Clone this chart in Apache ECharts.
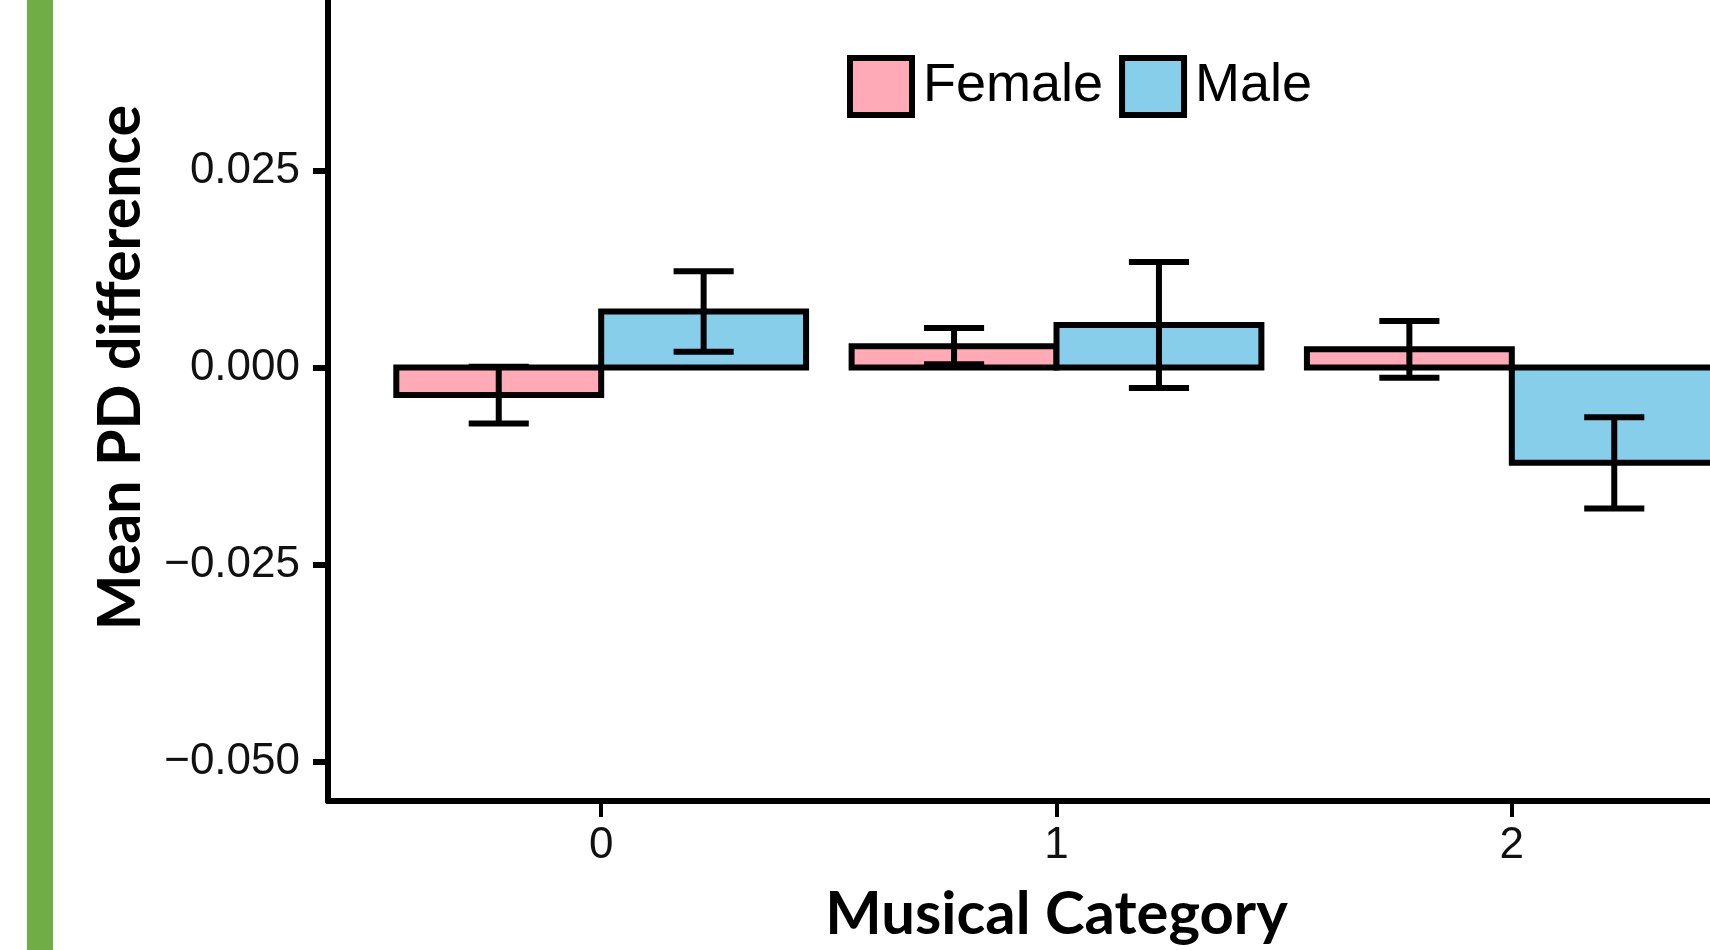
<!DOCTYPE html>
<html>
<head>
<meta charset="utf-8">
<script src="https://cdn.jsdelivr.net/npm/echarts@6/dist/echarts.min.js"></script>
<style>
html,body{margin:0;padding:0;background:#fff;overflow:hidden;width:1710px;height:950px;}
/* the plot panel of the original runs past the right and top edges, so the canvas is larger than the window */
#chart{position:absolute;left:0;top:-100px;width:1900px;height:1050px;}
</style>
</head>
<body>
<div id="chart"></div>
<script>
// ---- data ----
const categories = ['0', '1', '2'];
const seriesNames = ['Female', 'Male'];
const femaleMean = [-0.0035, 0.0027, 0.0023];
const femaleSE   = [0.0036, 0.0023, 0.0036];
const maleMean   = [0.0071, 0.0054, -0.0121];
const maleSE     = [0.0051, 0.0080, 0.0058];
const yTickValues = [-0.05, -0.025, 0, 0.025, 0.05];
const xTitle = 'Musical Category';
const yTitle = 'Mean PD difference';

// ---- styles ----
const PINK = '#FFAAB6';
const BLUE = '#87CEEB';
const LW = 6;
const BAR_W = 0.45;
const CAP_W = 0.132;
const OY = 100; // container offset above the window

function fitFont(text, weight, family, target) {
  const c = document.createElement('canvas').getContext('2d');
  c.font = weight + ' 100px ' + family;
  return Math.round(100 * target / c.measureText(text).width * 10) / 10;
}
const titleFamily = 'Lato';
const xTitleSize = fitFont(xTitle, 'bold', titleFamily, 462);
const yTitleSize = fitFont(yTitle, 'bold', titleFamily, 525);

function makeRender(color, dx) {
  return function (params, api) {
    const x = api.value(0), v = api.value(1), se = api.value(2);
    const halfW = api.size([BAR_W, 0])[0] / 2;
    const capHalf = api.size([CAP_W, 0])[0] / 2;
    const c = api.coord([x + dx, v]);
    const z = api.coord([x + dx, 0]);
    const hi = api.coord([x + dx, v + se]);
    const lo = api.coord([x + dx, v - se]);
    const top = Math.min(c[1], z[1]);
    const h = Math.abs(c[1] - z[1]);
    const line = { stroke: '#000', lineWidth: LW };
    return {
      type: 'group',
      children: [
        { type: 'rect', shape: { x: c[0] - halfW, y: top, width: 2 * halfW, height: h },
          style: { fill: color, stroke: '#000', lineWidth: LW } },
        { type: 'line', shape: { x1: c[0], y1: hi[1], x2: c[0], y2: lo[1] }, style: line },
        { type: 'line', shape: { x1: c[0] - capHalf, y1: hi[1], x2: c[0] + capHalf, y2: hi[1] }, style: line },
        { type: 'line', shape: { x1: c[0] - capHalf, y1: lo[1], x2: c[0] + capHalf, y2: lo[1] }, style: line }
      ]
    };
  };
}

const chart = echarts.init(document.getElementById('chart'), null, { renderer: 'canvas' });
const xIdx = categories.map((c, i) => i);

chart.setOption({
  animation: false,
  backgroundColor: '#fff',
  graphic: [
    { type: 'rect', left: 27, top: 0, shape: { width: 26, height: 1050 }, style: { fill: '#70AD47' }, silent: true }
  ],
  legend: {
    left: 847, top: 55 + OY, padding: 0,
    itemWidth: 62, itemHeight: 57, itemGap: 16,
    icon: 'rect',
    selectedMode: false,
    textStyle: { fontFamily: 'Liberation Sans', fontSize: 54, color: '#000', padding: [0, 0, 0, 6] },
    data: [
      { name: seriesNames[0], itemStyle: { color: PINK, borderColor: '#000', borderWidth: LW } },
      { name: seriesNames[1], itemStyle: { color: BLUE, borderColor: '#000', borderWidth: LW } }
    ]
  },
  grid: { left: 328, top: -66 + OY, width: 1457, height: 867, containLabel: false },
  xAxis: {
    type: 'value', min: -0.6, max: 2.6,
    splitLine: { show: false },
    axisLine: { show: true, onZero: false, lineStyle: { color: '#000', width: LW } },
    axisTick: { show: true, length: 16, customValues: xIdx, lineStyle: { color: '#000', width: 4 } },
    axisLabel: {
      customValues: xIdx, margin: 23,
      fontFamily: 'Liberation Sans', fontSize: 44, color: '#111',
      formatter: v => categories[Math.round(v)]
    },
    name: xTitle, nameLocation: 'middle', nameGap: 114,
    nameTextStyle: { fontFamily: titleFamily, fontWeight: 'bold', fontSize: xTitleSize, color: '#000', verticalAlign: 'middle' }
  },
  yAxis: {
    type: 'value', min: -0.055, max: 0.055,
    splitLine: { show: false },
    axisLine: { show: true, onZero: false, lineStyle: { color: '#000', width: LW } },
    axisTick: { show: true, length: 15, customValues: yTickValues, lineStyle: { color: '#000', width: LW } },
    axisLabel: {
      customValues: yTickValues, margin: 28,
      fontFamily: 'Liberation Sans', fontSize: 44, color: '#111',
      formatter: v => (v < 0 ? '\u2212' : '') + Math.abs(v).toFixed(3)
    },
    name: yTitle, nameLocation: 'middle', nameRotate: 90, nameGap: 207,
    nameTextStyle: { fontFamily: titleFamily, fontWeight: 'bold', fontSize: yTitleSize, color: '#000', align: 'center', verticalAlign: 'middle' }
  },
  series: [
    {
      name: seriesNames[0], type: 'custom',
      itemStyle: { color: PINK, borderColor: '#000', borderWidth: LW },
      renderItem: makeRender(PINK, -BAR_W / 2),
      encode: { x: 0, y: 1 },
      data: xIdx.map(i => [i, femaleMean[i], femaleSE[i]])
    },
    {
      name: seriesNames[1], type: 'custom',
      itemStyle: { color: BLUE, borderColor: '#000', borderWidth: LW },
      renderItem: makeRender(BLUE, BAR_W / 2),
      encode: { x: 0, y: 1 },
      data: xIdx.map(i => [i, maleMean[i], maleSE[i]])
    }
  ]
});
</script>
</body>
</html>
